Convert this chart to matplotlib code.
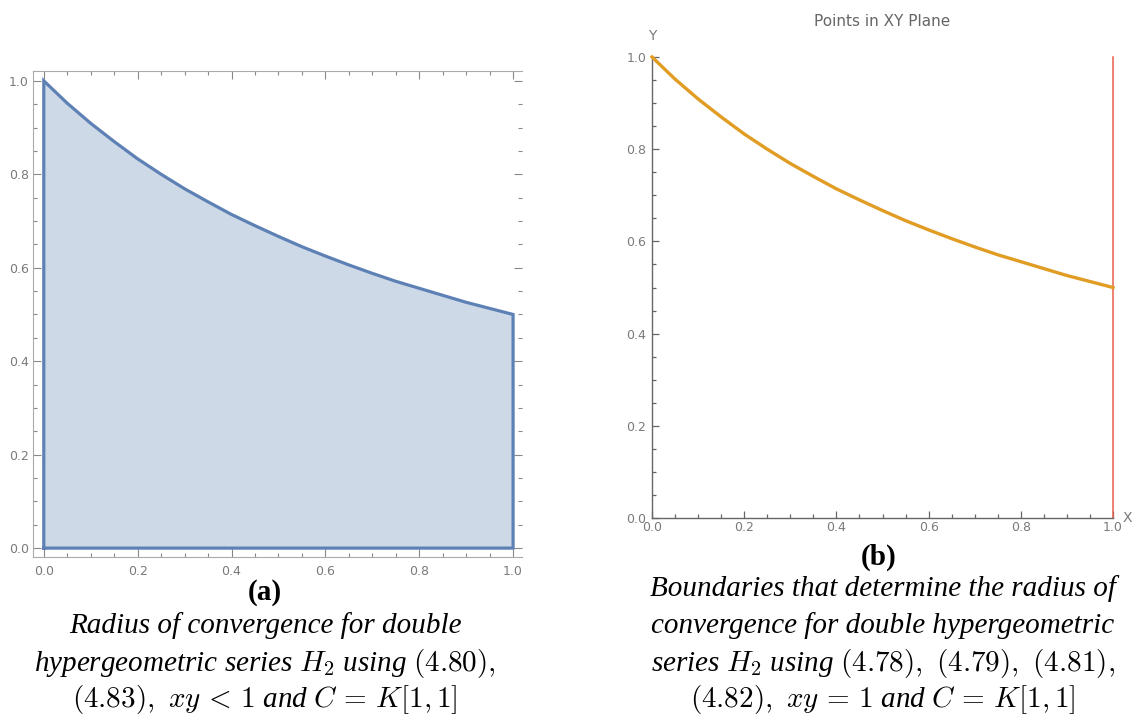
import numpy as np
import matplotlib.pyplot as plt
from matplotlib.ticker import MultipleLocator

plt.rcParams['mathtext.fontset'] = 'cm'

# boundary curve (y from x = 0 to 1)
curve_x = [0.0, 0.05, 0.1, 0.15, 0.2, 0.25, 0.3, 0.35, 0.4, 0.45, 0.5,
           0.55, 0.6, 0.65, 0.7, 0.75, 0.8, 0.85, 0.9, 0.95, 1.0]
curve_y = [1.0, 0.952, 0.909, 0.870, 0.833, 0.800, 0.769, 0.741, 0.714, 0.690, 0.667,
           0.645, 0.625, 0.606, 0.588, 0.571, 0.556, 0.541, 0.526, 0.513, 0.5]
# corners of the region in (a)
region_start = (0.0, 0.0)
region_end = (1.0, 0.0)
# vertical boundary in (b)
line_x = 1.0
line_y = [0.0, 1.0]
ticks = [0.0, 0.2, 0.4, 0.6, 0.8, 1.0]

W, H = 1141, 717
fig = plt.figure(figsize=(W / 100, H / 100), dpi=100)

def px(x0, y0, x1, y1):
    return [x0 / W, 1 - y1 / H, (x1 - x0) / W, (y1 - y0) / H]

tick_grey = '#888888'
label_grey = '#7a7a7a'

# ---- (a) filled region ----
ax1 = fig.add_axes(px(33, 71, 522, 557))
xs = [region_start[0]] + curve_x + [region_end[0], region_start[0]]
ys = [region_start[1]] + curve_y + [region_end[1], region_start[1]]
ax1.fill(xs, ys, color='#cdd9e7', zorder=1)
ax1.plot(xs, ys, color='#5e81b5', lw=2.3, solid_joinstyle='miter', zorder=2)
ax1.set_xlim(-0.023, 1.019)
ax1.set_ylim(-0.019, 1.021)
ax1.xaxis.set_minor_locator(MultipleLocator(0.05))
ax1.yaxis.set_minor_locator(MultipleLocator(0.05))
ax1.set_xticks(ticks)
ax1.set_yticks(ticks)
ax1.set_xticklabels(['%.1f' % t for t in ticks])
ax1.set_yticklabels(['%.1f' % t for t in ticks])
ax1.tick_params(which='both', direction='in', top=True, right=True, color=tick_grey,
                width=0.8, labelsize=9, labelcolor=label_grey, pad=3)
ax1.tick_params(axis='x', pad=6)
ax1.tick_params(which='major', length=6)
ax1.tick_params(which='minor', length=3)
for s in ['left', 'bottom', 'top']:
    ax1.spines[s].set_color('#aaaaaa')
ax1.spines['right'].set_visible(False)

# ---- (b) boundaries ----
ax2 = fig.add_axes(px(652, 57, 1113, 518))
ax2.plot(curve_x, curve_y, color='#e19c24', lw=2.4, clip_on=False, zorder=3)
ax2.plot([line_x, line_x], line_y, color='#e8604b', lw=1.1, clip_on=False, zorder=2)
ax2.set_xlim(0, 1)
ax2.set_ylim(0, 1)
ax2.set_xticks(ticks)
ax2.set_yticks(ticks)
ax2.xaxis.set_minor_locator(MultipleLocator(0.05))
ax2.yaxis.set_minor_locator(MultipleLocator(0.05))
ax2.set_xticklabels(['%.1f' % t for t in ticks])
ax2.set_yticklabels(['%.1f' % t for t in ticks])
ax2.tick_params(which='both', direction='in', color='#666666', width=0.9,
                labelsize=9, labelcolor=label_grey, pad=2)
ax2.tick_params(axis='y', pad=4)
ax2.tick_params(which='major', length=5)
ax2.tick_params(which='minor', length=3)
ax2.spines['top'].set_visible(False)
ax2.spines['right'].set_visible(False)
for s in ['left', 'bottom']:
    ax2.spines[s].set_color('#666666')
    ax2.spines[s].set_linewidth(1.0)
ax2.set_title('Points in XY Plane', fontsize=11, color='#666666', pad=22)
ax2.text(0, 1.03, 'Y', transform=ax2.transAxes, ha='center', va='bottom',
         fontsize=10, color=label_grey)
ax2.text(1.02, 0, 'X', transform=ax2.transAxes, ha='left', va='center',
         fontsize=10, color=label_grey)

# ---- captions (bottom aligned, like [b] subfigures) ----
cap = dict(family='Liberation Serif', style='italic', fontsize=21, ha='center', va='center')
lab = dict(family='Liberation Serif', weight='bold', fontsize=21, ha='center', va='center')
step = 37
last = 700

fig.text(265 / W, 1 - 592 / H, '(a)', **lab)
left_lines = ['Radius of convergence for double',
              r'hypergeometric series $H_2$ using $\mathrm{(4.80),}$',
              r'$\mathrm{(4.83),}\ xy \,<\, 1$ and $C \,=\, K[1,1]$']
for i, t in enumerate(left_lines):
    fig.text(265 / W, 1 - (last - step * (len(left_lines) - 1 - i)) / H, t, **cap)

fig.text(879 / W, 1 - 557 / H, '(b)', **lab)
right_lines = ['Boundaries that determine the radius of',
               'convergence for double hypergeometric',
               r'series $H_2$ using $\mathrm{(4.78),\ (4.79),\ (4.81),}$',
               r'$\mathrm{(4.82),}\ xy \,=\, 1$ and $C \,=\, K[1,1]$']
for i, t in enumerate(right_lines):
    fig.text(883 / W, 1 - (last - step * (len(right_lines) - 1 - i)) / H, t, **cap)

fig.savefig('out.png', dpi=100)
